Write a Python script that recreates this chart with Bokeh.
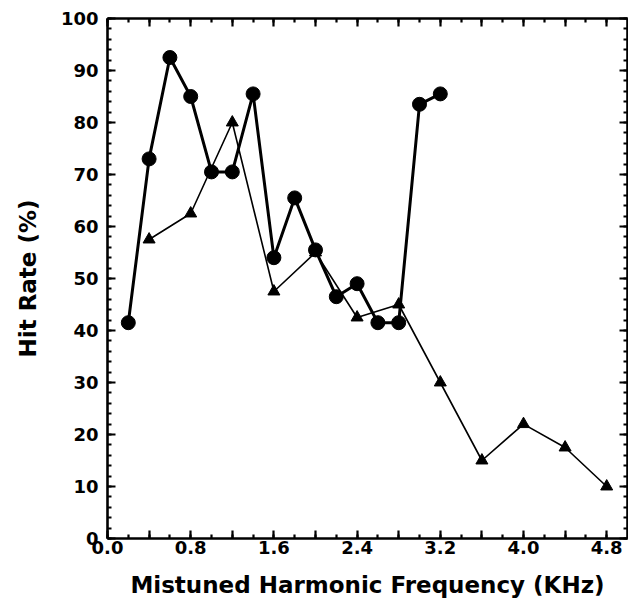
from bokeh.plotting import figure
from bokeh.models import Range1d, FixedTicker, LinearAxis, PrintfTickFormatter, CustomJSTickFormatter
from bokeh.embed import file_html
from bokeh.resources import INLINE

# ---- data ----
circle_freq = [0.2, 0.4, 0.6, 0.8, 1.0, 1.2, 1.4, 1.6, 1.8, 2.0, 2.2, 2.4, 2.6, 2.8, 3.0, 3.2]
circle_hit = [41.5, 73.0, 92.5, 85.0, 70.5, 70.5, 85.5, 54.0, 65.5, 55.5, 46.5, 49.0, 41.5, 41.5, 83.5, 85.5]

tri_freq = [0.4, 0.8, 1.2, 1.6, 2.0, 2.4, 2.8, 3.2, 3.6, 4.0, 4.4, 4.8]
tri_hit = [57.5, 62.5, 80.0, 47.5, 55.0, 42.5, 45.0, 30.0, 15.0, 22.0, 17.5, 10.0]

x_major_ticks = [0.0, 0.4, 0.8, 1.2, 1.6, 2.0, 2.4, 2.8, 3.2, 3.6, 4.0, 4.4, 4.8]
x_minor_ticks = [0.0, 0.2, 0.4, 0.6, 0.8, 1.0, 1.2, 1.4, 1.6, 1.8, 2.0, 2.2, 2.4,
                 2.6, 2.8, 3.0, 3.2, 3.4, 3.6, 3.8, 4.0, 4.2, 4.4, 4.6, 4.8]
x_unlabeled = [0.4, 1.2, 2.0, 2.8, 3.6, 4.4]
y_major_ticks = [0, 10, 20, 30, 40, 50, 60, 70, 80, 90, 100]
y_minor_ticks = list(range(0, 101, 2))

x_title = "Mistuned Harmonic Frequency (KHz)"
y_title = "Hit Rate (%)"

FONT = "DejaVu Sans"

p = figure(width=628, height=600, output_backend="svg", toolbar_location=None,
           x_range=Range1d(0, 5.0), y_range=Range1d(0, 100),
           x_axis_type=None, y_axis_type=None,
           min_border_left=107, min_border_right=1, min_border_top=18, min_border_bottom=62)
p.xgrid.visible = False
p.ygrid.visible = False
p.outline_line_color = None
p.background_fill_color = "white"
p.border_fill_color = "white"

xticker = FixedTicker(ticks=x_major_ticks, minor_ticks=x_minor_ticks)
yticker = FixedTicker(ticks=y_major_ticks, minor_ticks=y_minor_ticks)

xa = LinearAxis(ticker=xticker)
ya = LinearAxis(ticker=yticker)
top = LinearAxis(ticker=xticker)
right = LinearAxis(ticker=yticker)
p.add_layout(xa, "below")
p.add_layout(ya, "left")
p.add_layout(top, "above")
p.add_layout(right, "right")

for ax in [xa, ya, top, right]:
    ax.axis_line_width = 2.6
    ax.axis_line_color = "black"
    ax.major_tick_in = 8
    ax.major_tick_out = 0
    ax.minor_tick_in = 4
    ax.minor_tick_out = 0
    ax.major_tick_line_width = 2.2
    ax.minor_tick_line_width = 2.2
    ax.major_tick_line_color = "black"
    ax.minor_tick_line_color = "black"

blank = CustomJSTickFormatter(code="return ''")
for ax in [top, right]:
    ax.formatter = blank
    ax.major_label_standoff = 0
    ax.axis_label = None

xa.formatter = PrintfTickFormatter(format="%.1f")
xa.major_label_overrides = {v: "" for v in x_unlabeled}
xa.major_label_text_font = FONT
xa.major_label_text_font_style = "bold"
xa.major_label_text_font_size = "18px"
xa.major_label_text_color = "black"
xa.major_label_standoff = 2
xa.axis_label = x_title
xa.axis_label_text_font = FONT
xa.axis_label_text_font_style = "bold"
xa.axis_label_text_font_size = "23px"
xa.axis_label_text_color = "black"
xa.axis_label_standoff = 15

ya.major_label_text_font = FONT
ya.major_label_text_font_style = "bold"
ya.major_label_text_font_size = "18px"
ya.major_label_text_color = "black"
ya.major_label_standoff = 9
ya.axis_label = y_title
ya.axis_label_text_font = FONT
ya.axis_label_text_font_style = "bold"
ya.axis_label_text_font_size = "23px"
ya.axis_label_text_color = "black"
ya.axis_label_standoff = 17

# triangle series (thin line)
p.line(tri_freq, tri_hit, line_color="black", line_width=1.6)
p.scatter(tri_freq, tri_hit, marker="triangle", size=12, fill_color="black", line_color="black")

# circle series (thick line)
p.line(circle_freq, circle_hit, line_color="black", line_width=3)
p.scatter(circle_freq, circle_hit, marker="circle", size=14, fill_color="black", line_color="black")

open("out.html", "w").write(file_html(p, INLINE))
